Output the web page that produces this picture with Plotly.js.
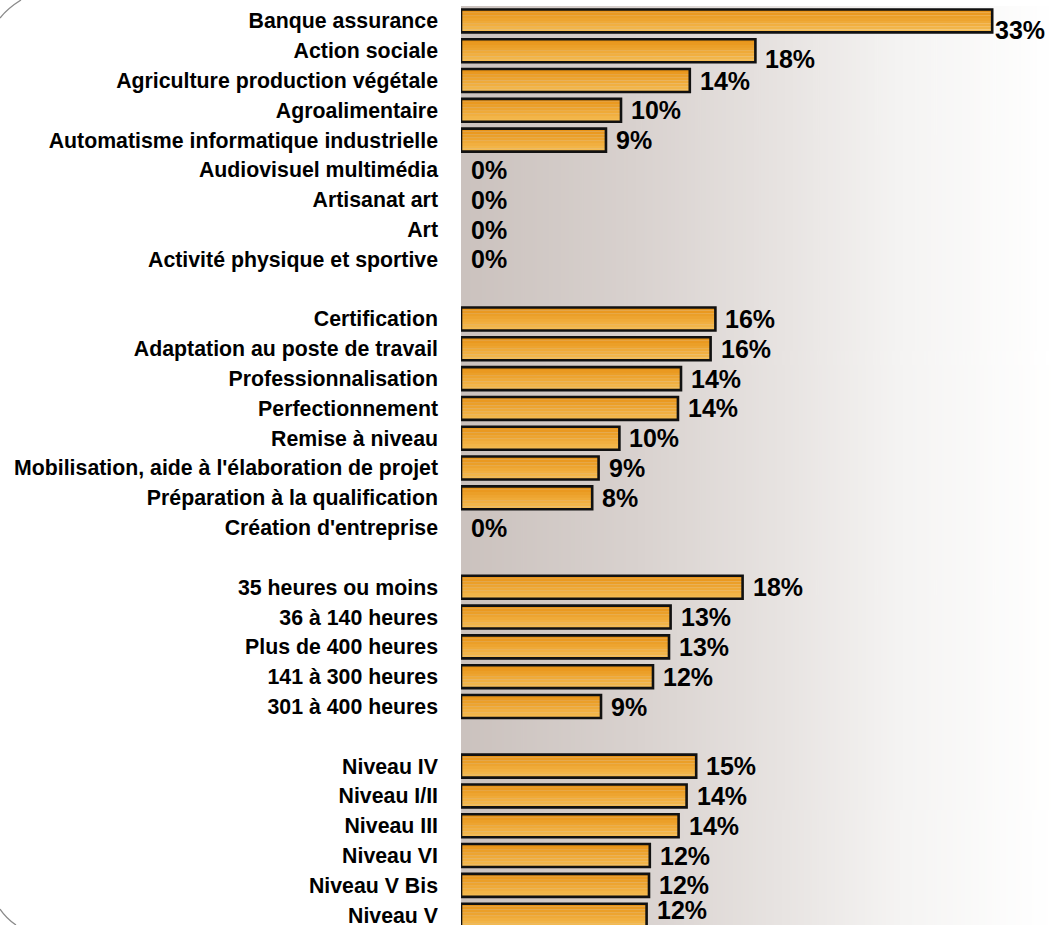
<!DOCTYPE html>
<html><head><meta charset="utf-8">
<script src="https://cdn.plot.ly/plotly-3.0.1.min.js"></script>
<style>html,body{margin:0;padding:0;background:#fff;overflow:hidden}#chart{width:1051px;height:925px}</style>
</head><body><div id="chart"></div>
<script>
const categories = ["Banque assurance","Action sociale","Agriculture production végétale","Agroalimentaire","Automatisme informatique industrielle","Audiovisuel multimédia","Artisanat art","Art","Activité physique et sportive"," ","Certification","Adaptation au poste de travail","Professionnalisation","Perfectionnement","Remise à niveau","Mobilisation, aide à l'élaboration de projet","Préparation à la qualification","Création d'entreprise","  ","35 heures ou moins","36 à 140 heures","Plus de 400 heures","141 à 300 heures","301 à 400 heures","   ","Niveau IV","Niveau I/II","Niveau III","Niveau VI","Niveau V Bis","Niveau V"];
const values = [33.2,18.4,14.3,10.0,9.06,0,0,0,0,null,15.9,15.6,13.75,13.56,9.9,8.6,8.2,0,null,17.6,13.1,13.0,12.0,8.75,null,14.7,14.1,13.6,11.8,11.75,11.6];
const labels = ["33%","18%","14%","10%","9%","0%","0%","0%","0%","","16%","16%","14%","14%","10%","9%","8%","0%","","18%","13%","13%","12%","9%","","15%","14%","14%","12%","12%","12%"];

const W = 1051, H = 925, ML = 461, MT = 6;
const PW = W - ML, PH = H - MT;

// background gradient image
const cv = document.createElement('canvas');
cv.width = 600; cv.height = 4;
const ctx = cv.getContext('2d');
const g = ctx.createLinearGradient(0,0,600,0);
g.addColorStop(0,'#cbc2be');
g.addColorStop(0.3,'#d9d2cf');
g.addColorStop(0.55,'#e8e4e2');
g.addColorStop(0.75,'#f5f4f3');
g.addColorStop(1,'#ffffff');
ctx.fillStyle = g; ctx.fillRect(0,0,600,4);
const bgURL = cv.toDataURL();

const barW = 0.77;
const N = 8;
const c0 = [232,148,24], c1 = [244,186,80];
const traces = [];
for (let i = 0; i < N; i++) {
  const t = i/(N-1);
  const col = 'rgb(' + c0.map((v,k)=>Math.round(v+(c1[k]-v)*t)).join(',') + ')';
  traces.push({
    type:'bar', orientation:'h', x: values, y: categories,
    width: barW/N + 0.002, offset: -barW/2 + i*barW/N,
    marker:{color: col, line:{width:0}},
    hoverinfo:'skip', showlegend:false
  });
}
traces.push({
  type:'bar', orientation:'h', x: values, y: categories,
  width: barW, offset: -barW/2,
  marker:{color:'rgba(0,0,0,0)', line:{color:'#111', width: values.map(v => v > 0 ? 2.6 : 0)}},
  hoverinfo:'skip', showlegend:false
});

// value labels (label placement tweaks as in the original layout)
const lastIdx = categories.length - 1;
const annotations = [];
values.forEach((v, i) => {
  if (v === null) return;
  let ys = 0, xs = 8;
  if (i === 0) { ys = -9; xs = 1; }
  else if (i === 1) { ys = -8; }
  else if (i === lastIdx) { ys = 5; }
  annotations.push({
    x: v, y: categories[i], xref:'x', yref:'y', text: labels[i],
    showarrow:false, xanchor:'left', yanchor:'middle', xshift: xs, yshift: ys,
    font:{family:'Liberation Sans, Arial, sans-serif', size:25, weight:'bold', color:'#000'}
  });
});

const px = X => (X - ML)/PW;
const py = Y => 1 - (Y - MT)/PH;

const layout = {
  width: W, height: H,
  margin:{l:ML, r:0, t:MT, b:0, pad:0},
  paper_bgcolor:'#ffffff', plot_bgcolor:'rgba(0,0,0,0)',
  barmode:'overlay', showlegend:false, hovermode:false,
  xaxis:{range:[0, PW/16], showgrid:false, zeroline:false, showticklabels:false, ticks:'', showline:false, fixedrange:true},
  yaxis:{type:'category', categoryorder:'array', categoryarray: categories,
         range:[30.33, -0.5], autorange:false, showgrid:false, zeroline:false, showline:false,
         ticks:'', ticklabelstandoff: 22,
         tickfont:{family:'Liberation Sans, Arial, sans-serif', size:21.3, weight:'bold', color:'#000'}, fixedrange:true},
  annotations: annotations,
  images:[{source: bgURL, xref:'paper', yref:'paper', x:0, y:1, sizex:1, sizey:1, xanchor:'left', yanchor:'top', sizing:'stretch', layer:'below'}],
  shapes:[
    {type:'path', xref:'paper', yref:'paper', layer:'above',
     path:'M '+px(0)+','+py(18)+' Q '+px(8)+','+py(8)+' '+px(21)+','+py(0),
     line:{color:'#8a8a8a', width:1.3}},
    {type:'path', xref:'paper', yref:'paper', layer:'above',
     path:'M '+px(0)+','+py(909)+' Q '+px(6)+','+py(918)+' '+px(16)+','+py(925),
     line:{color:'#8a8a8a', width:1.3}}
  ]
};

Plotly.newPlot('chart', traces, layout, {displayModeBar:false, staticPlot:true});
</script>
</body></html>
